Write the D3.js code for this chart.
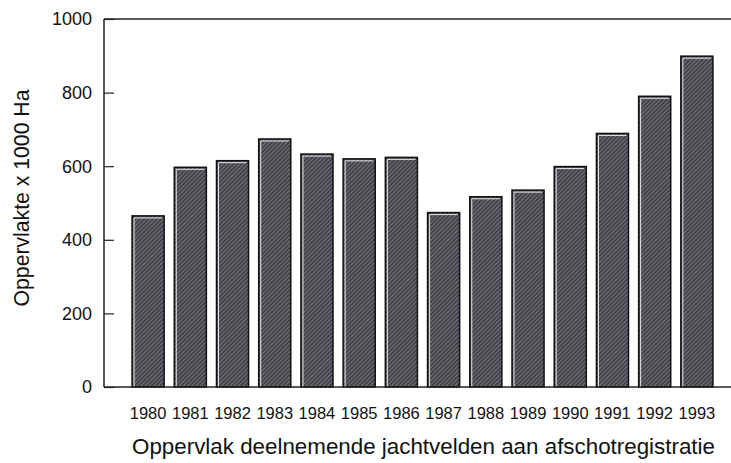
<!DOCTYPE html>
<html><head><meta charset="utf-8">
<script src="https://cdn.jsdelivr.net/npm/d3@7"></script>
<style>body{margin:0;background:#fff}svg{display:block}text{font-family:"Liberation Sans",Arial,sans-serif;fill:#111}</style>
</head><body>
<svg id="c" width="731" height="463"></svg>
<script>
const years = ["1980","1981","1982","1983","1984","1985","1986","1987","1988","1989","1990","1991","1992","1993"];
const values = [465,597,615,674,633,620,624,474,517,535,599,689,790,899];
const yTicks = [0,200,400,600,800,1000];
const yTitle = "Oppervlakte x 1000 Ha";
const xTitle = "Oppervlak deelnemende jachtvelden aan afschotregistratie";

(function(){
const svg = d3.select("#c");
const mLeft = 104, mRight = 731, mTop = 19, mBottom = 387;
const x = d3.scaleBand().domain(years).range([127, 718]).paddingInner(0.24).paddingOuter(0.12);
const y = d3.scaleLinear().domain([0,1000]).range([mBottom, mTop]);

const defs = svg.append("defs");
const pat = defs.append("pattern").attr("id","hatch").attr("patternUnits","userSpaceOnUse")
  .attr("width",3).attr("height",3).attr("patternTransform","rotate(45)");
pat.append("rect").attr("width",3).attr("height",3).attr("fill","#414149");
pat.append("rect").attr("width",1).attr("height",3).attr("fill","#76767c");

svg.append("line").attr("x1",mLeft).attr("x2",mRight).attr("y1",mTop).attr("y2",mTop).attr("stroke","#222").attr("stroke-width",1.5);

const g = svg.append("g");
g.selectAll("rect.bar").data(values).join("rect").attr("class","bar")
  .attr("x",(d,i)=>x(years[i])).attr("width",x.bandwidth())
  .attr("y",d=>y(d)).attr("height",d=>y(0)-y(d))
  .attr("fill","url(#hatch)").attr("stroke","#111").attr("stroke-width",1.5);
g.selectAll("path.hl").data(values).join("path").attr("class","hl")
  .attr("d",(d,i)=>{const x0=x(years[i])+2, y0=y(d)+2; return `M${x0},${y(0)}V${y0}H${x(years[i])+x.bandwidth()-2}`;})
  .attr("fill","none").attr("stroke","#e6e6e6").attr("stroke-width",1);

const ya = svg.append("g").attr("transform",`translate(${mLeft},0)`)
  .call(d3.axisRight(y).tickValues(yTicks).tickSize(10).tickFormat(""));
ya.select(".domain").remove();
ya.selectAll("line").attr("stroke","#222").attr("stroke-width",1.2);
svg.append("line").attr("x1",mLeft).attr("x2",mLeft).attr("y1",mTop).attr("y2",mBottom).attr("stroke","#222").attr("stroke-width",1.5);
svg.append("g").selectAll("text").data(yTicks).join("text")
  .attr("x",92).attr("y",d=>y(d)).attr("dy","0.36em").attr("text-anchor","end")
  .attr("font-size",18).text(d=>d);

svg.append("line").attr("x1",mLeft).attr("x2",mRight).attr("y1",mBottom).attr("y2",mBottom).attr("stroke","#222").attr("stroke-width",1.5);
svg.append("g").selectAll("text").data(years).join("text")
  .attr("x",d=>x(d)+x.bandwidth()/2).attr("y",419).attr("text-anchor","middle")
  .attr("font-size",16.5).text(d=>d);

function fit(t, len, base){ t.attr("font-size",base); const w=t.node().getComputedTextLength(); t.attr("font-size", base*len/w); }
const xt = svg.append("text").attr("x",423.5).attr("y",454).attr("text-anchor","middle").text(xTitle);
fit(xt, 583, 20);
const yt = svg.append("text").attr("transform",`translate(29,198) rotate(-90)`).attr("text-anchor","middle").text(yTitle);
fit(yt, 217, 18);
})();
</script>
</body></html>
